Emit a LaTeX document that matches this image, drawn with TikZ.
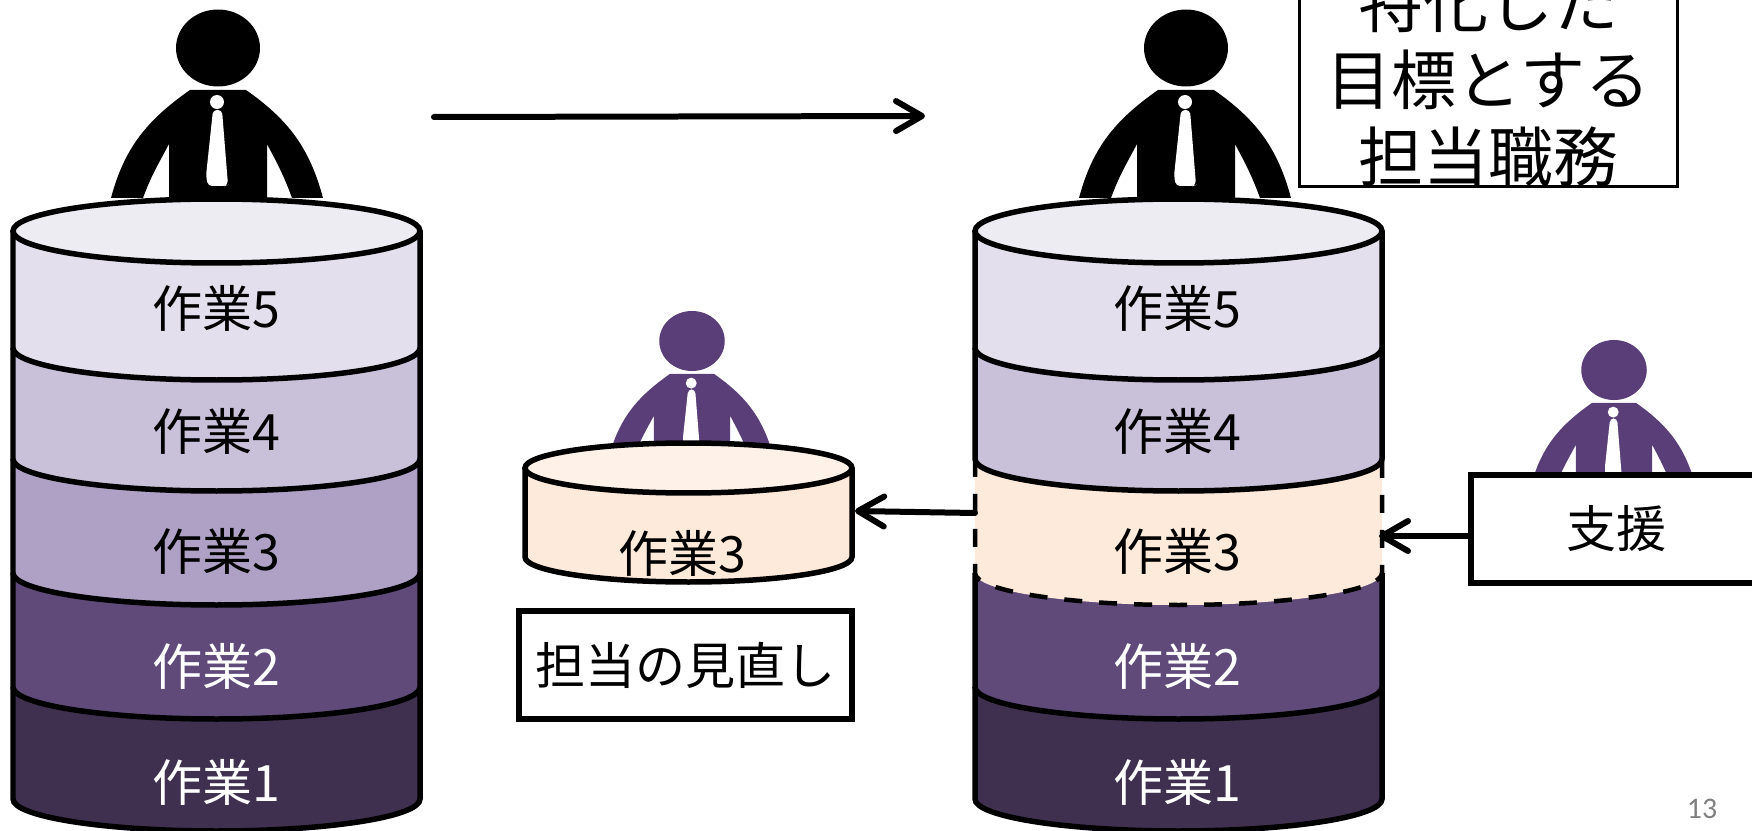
\documentclass[tikz,border=0pt]{standalone}
\usepackage{fontspec}
\usetikzlibrary{arrows.meta}
\newfontfamily\jpfont{Noto Sans CJK JP}
\newfontfamily\numfont{Carlito}
\definecolor{workA}{HTML}{40304F}
\definecolor{workB}{HTML}{5F4A7A}
\definecolor{workC}{HTML}{AFA1C5}
\definecolor{workD}{HTML}{C9C0DA}
\definecolor{workE}{HTML}{E3DFEC}
\definecolor{topE}{HTML}{EEECF3}
\definecolor{peach}{HTML}{FDEADA}
\definecolor{topPeach}{HTML}{FEF2E8}
\definecolor{staff}{HTML}{5A3E78}
\tikzset{
  task/.style={font=\jpfont\fontsize{28.5}{30}\selectfont, inner sep=0pt},
  thickbox/.style={draw, line width=0.12cm, fill=white, align=center, inner sep=0pt},
  thinbox/.style={draw, line width=0.06cm, fill=white, align=center, inner sep=0pt,
    font=\jpfont\fontsize{37}{43.7}\selectfont},
  rim/.style={line width=0.11cm},
  cutrim/.style={line width=0.09cm, dash pattern=on 0.36cm off 0.34cm},
  move/.style={line width=0.12cm, -{Straight Barb[length=0.52cm, width=0.6cm, round]}, line cap=round}
}
% #1 x, #2 y of the head, #3 scale, #4 colour
\newcommand{\person}[4]{
\begin{scope}[shift={(#1,#2)}, scale=#3]
\fill[#4] (0,0) ellipse[x radius=0.84cm, y radius=0.77cm]; % Head
\fill[#4] (-107,150) to[out=75, in=215] (-28,42) -- (28,42)
to[out=-35, in=105] (105,150) -- (74,150)
to[out=110, in=-62] (49,96) -- (49,150) -- (-49,150) -- (-49,96)
to[out=-118, in=70] (-75,150) -- cycle; % Body
\fill[white] (-1,54) circle[radius=0.14cm];
\fill[white,rounded corners=0.08cm] (-5,62) -- (4,62) -- (10,137) -- (7,138) -- (-10,138) -- (-12,128) -- cycle; % Tie
\end{scope}
}
% #1 style, #2 centre x, #3 half width, #4 y of the top side, #5 y of the bottom side, #6 y radius, #7 colour
\newcommand{\layer}[7][rim]{
\fill[#7] (#2-#3,#4) -- (#2-#3,#5) arc[start angle=180, end angle=0, x radius=#3, y radius=#6] -- (#2+#3,#4) -- cycle;
\draw[#1] (#2-#3,#4) -- (#2-#3,#5) arc[start angle=180, end angle=0, x radius=#3, y radius=#6] -- (#2+#3,#4);
}
\begin{document}
\begin{tikzpicture}[x=0.02cm, y=-0.02cm]
\useasboundingbox (0,0) rectangle (1752,831);
\clip (0,0) rectangle (1752,831);
%
\person{218}{48}{1}{black}
\person{1186}{48}{1}{black}
\person{692}{341}{0.78}{staff}
\person{1614}{370}{0.78}{staff}
%
\layer{216.5}{203.5}{687}{799}{32}{workA} % Left stack
\layer{216.5}{203.5}{573}{687}{32}{workB}
\layer{216.5}{203.5}{459}{573}{32}{workC}
\layer{216.5}{203.5}{348}{459}{32}{workD}
\layer{216.5}{203.5}{231}{348}{32}{workE}
\draw[rim, fill=topE] (216.5,231) ellipse[x radius=4.07cm, y radius=0.64cm];
%
\layer{1178.5}{203.5}{687}{799}{32}{workA} % Right stack
\layer{1178.5}{203.5}{573}{687}{32}{workB}
\layer[cutrim]{1178.5}{203.5}{459}{573}{32}{peach}
\layer{1178.5}{203.5}{348}{459}{32}{workD}
\layer{1178.5}{203.5}{231}{348}{32}{workE}
\draw[rim, fill=topE] (1178.5,231) ellipse[x radius=4.07cm, y radius=0.64cm];
%
\layer{688.5}{163.5}{468}{557}{25}{peach} % Small stack
\draw[rim, fill=topPeach] (688.5,468) ellipse[x radius=3.27cm, y radius=0.5cm];
%
\node[task] (leftE) at (216,308) {作業5};
\node[task] (leftD) at (216,431) {作業4};
\node[task] (leftC) at (216,551) {作業3};
\node[task, text=white] (leftB) at (216,666) {作業2};
\node[task, text=white] (leftA) at (216,782) {作業1};
%
\node[task] (rightE) at (1177,308) {作業5};
\node[task] (rightD) at (1177,431) {作業4};
\node[task] (rightC) at (1177,551) {作業3};
\node[task, text=white] (rightB) at (1177,666) {作業2};
\node[task, text=white] (rightA) at (1177,782) {作業1};
%
\node[task] (smallC) at (682,553) {作業3};
%
\node[thickbox, task, minimum width=6.66cm, minimum height=2.16cm] (review) at (685.5,665) {担当の見直し};
\node[thickbox, task, minimum width=5.82cm, minimum height=2.16cm] (support) at (1616.5,529) {支援};
\node[thinbox, minimum width=7.58cm, minimum height=4.16cm] (goal) at (1488.5,80) {特化した\\目標とする\\担当職務};
%
\coordinate (before) at (434,117);
\coordinate (after) at (925,116);
\coordinate (rightSide) at (975,513);
\coordinate (smallSide) at (855,511);
\coordinate (supportTip) at (1379,536);
\draw[move] (before) -- (after);
\draw[move] (rightSide) -- (smallSide);
\draw[move] (support.west |- supportTip) -- (supportTip);
%
\node[text=black!50, font=\numfont\fontsize{17}{20}\selectfont, inner sep=0pt] (page) at (1702,809) {13};
\end{tikzpicture}
\end{document}
